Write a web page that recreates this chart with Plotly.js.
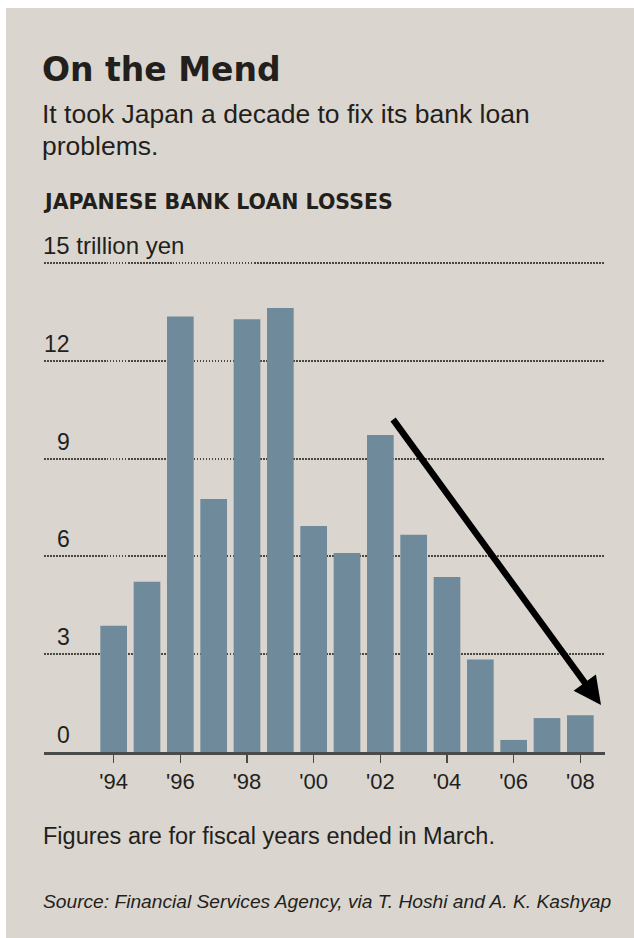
<!DOCTYPE html>
<html>
<head>
<meta charset="utf-8">
<script src="https://cdn.plot.ly/plotly-3.0.1.min.js"></script>
<style>
  html, body { margin: 0; padding: 0; background: #ffffff; }
  #chart { width: 634px; height: 938px; }
</style>
</head>
<body>
<div id="chart"></div>
<script>
// ---- data ----
const years = [1994, 1995, 1996, 1997, 1998, 1999, 2000, 2001, 2002, 2003, 2004, 2005, 2006, 2007, 2008];
const lossesTrillionYen = [3.87, 5.22, 13.36, 7.76, 13.27, 13.62, 6.93, 6.1, 9.72, 6.66, 5.37, 2.84, 0.37, 1.04, 1.13];
const xTickVals = [1994, 1996, 1998, 2000, 2002, 2004, 2006, 2008];
const xTickText = ["'94", "'96", "'98", "'00", "'02", "'04", "'06", "'08"];
const yTickVals = [0, 3, 6, 9, 12, 15];
const yTickText = ["0", "3", "6", "9", "12", "15 trillion yen"];

const titleText = "On the Mend";
const subtitleLines = ["It took Japan a decade to fix its bank loan", "problems."];
const headerText = "JAPANESE BANK LOAN LOSSES";
const noteText = "Figures are for fiscal years ended in March.";
const sourceText = "Source: Financial Services Agency, via T. Hoshi and A. K. Kashyap";

// ---- layout helpers (pixel -> paper) ----
const W = 634, H = 938;
const L = 44, R = 605, T = 261, B = 752;
const px = x => (x - L) / (R - L);
const py = y => (B - y) / (B - T);

const ink = '#231f1c';
const sans = 'Liberation Sans, Arial, sans-serif';

const annotations = [];
annotations.push({text: titleText, xref: 'paper', yref: 'paper', x: px(40), y: py(70),
  xanchor: 'left', yanchor: 'middle', showarrow: false,
  font: {family: 'DejaVu Sans', size: 33, weight: 700, color: ink}});
subtitleLines.forEach((t, i) => annotations.push({text: t, xref: 'paper', yref: 'paper',
  x: px(40), y: py(114 + i * 32), xanchor: 'left', yanchor: 'middle', showarrow: false,
  font: {family: sans, size: 26.5, color: ink}}));
annotations.push({text: headerText, xref: 'paper', yref: 'paper', x: px(41), y: py(202),
  xanchor: 'left', yanchor: 'middle', showarrow: false,
  font: {family: 'DejaVu Sans', size: 20.5, weight: 700, color: ink}});
yTickVals.forEach((v, i) => {
  const last = i === yTickVals.length - 1;
  annotations.push({text: yTickText[i], xref: 'paper', yref: 'y',
    x: last ? px(41) : px(72), y: v, xanchor: last ? 'left' : 'right', yanchor: 'bottom',
    yshift: 2, showarrow: false, font: {family: sans, size: last ? 24 : 23, color: ink}});
});
annotations.push({text: noteText, xref: 'paper', yref: 'paper', x: px(41), y: py(836),
  xanchor: 'left', yanchor: 'middle', showarrow: false,
  font: {family: sans, size: 23.5, color: ink}});
annotations.push({text: '<i>' + sourceText + '</i>', xref: 'paper', yref: 'paper', x: px(41), y: py(901),
  xanchor: 'left', yanchor: 'middle', showarrow: false,
  font: {family: sans, size: 19.2, color: ink}});
// downward trend arrow
annotations.push({text: '', xref: 'paper', yref: 'paper', x: px(601), y: py(705),
  ax: -209, ay: -287, axref: 'pixel', ayref: 'pixel', showarrow: true,
  arrowhead: 2, arrowsize: 0.85, arrowwidth: 6.5, arrowcolor: '#000000', standoff: 0});

const data = [{
  type: 'bar', x: years, y: lossesTrillionYen,
  marker: {color: '#6e8a9b', line: {width: 0}},
  hoverinfo: 'skip'
}];

const layout = {
  width: W, height: H,
  margin: {l: L, r: W - R, t: T, b: H - B, pad: 0},
  paper_bgcolor: '#ffffff',
  plot_bgcolor: 'rgba(0,0,0,0)',
  bargap: 0.2,
  showlegend: false,
  xaxis: {
    range: [1991.91, 2008.74], tickmode: 'array', tickvals: xTickVals, ticktext: xTickText,
    showgrid: false, zeroline: false,
    showline: true, linecolor: '#4a4a4a', linewidth: 2.5,
    ticks: 'outside', ticklen: 8, tickwidth: 1.5, tickcolor: '#4a4a4a',
    tickfont: {family: sans, size: 22, color: ink},
    fixedrange: true
  },
  yaxis: {
    range: [0, 15.06], tickmode: 'array', tickvals: yTickVals,
    showticklabels: false, ticks: '', zeroline: false, showline: false,
    showgrid: true, gridcolor: '#4a4640', gridwidth: 2, griddash: '1.5px,1.5px',
    fixedrange: true
  },
  shapes: [{type: 'rect', xref: 'paper', yref: 'paper', layer: 'below',
    x0: px(6), x1: px(W + 2), y0: py(8), y1: py(H + 2),
    fillcolor: '#dad6cf', line: {width: 0}}],
  annotations: annotations
};

Plotly.newPlot('chart', data, layout, {displayModeBar: false, staticPlot: true});
</script>
</body>
</html>
